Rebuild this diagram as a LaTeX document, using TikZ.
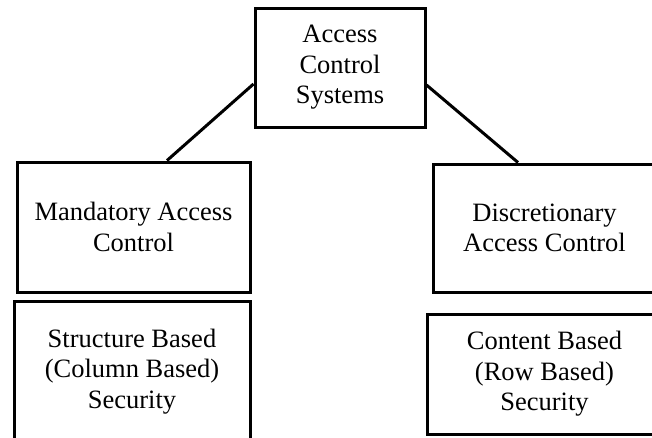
\documentclass[tikz,border=0pt]{standalone}
\usepackage{fontspec}
\setmainfont{Liberation Serif}
\begin{document}
\begin{tikzpicture}[x=1pt,y=-1pt,
  box/.style={draw=black, line width=3pt, rectangle, inner sep=0pt,
    align=center, font=\fontsize{26.5}{30.5}\selectfont},
  link/.style={draw=black, line width=3pt}]
  \clip (0,0) rectangle (652,437);
  \fill[white] (0,0) rectangle (652,437);

  \node[box, minimum width=170pt, minimum height=119pt] (top) at (340,67.5)
    {Access\\Control\\Systems};
  \node[box, minimum width=233pt, minimum height=130pt] (mand) at (133.5,227)
    {Mandatory Access\\Control};
  \node[box, minimum width=223pt, minimum height=128pt] (disc) at (544.5,228)
    {Discretionary\\Access Control};
  \node[box, minimum width=236pt, minimum height=141pt] (struct) at (132,371.5)
    {Structure Based\\(Column Based)\\Security};
  \node[box, minimum width=235pt, minimum height=120pt] (cont) at (544.5,374)
    {Content Based\\(Row Based)\\Security};

  \draw[link] ([yshift=-16.5pt]top.west) -- ([xshift=33.5pt]mand.north);
  \draw[link] ([yshift=-17.5pt]top.east) -- ([xshift=-26.5pt]disc.north);
\end{tikzpicture}
\end{document}
